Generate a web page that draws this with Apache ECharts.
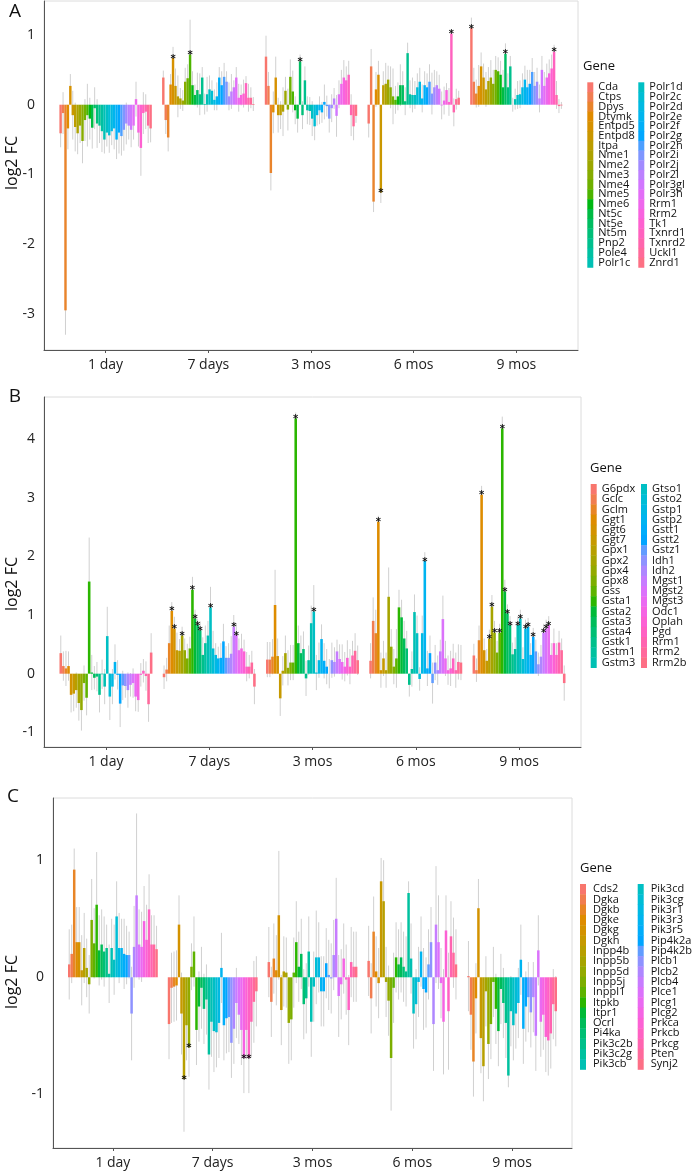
<!DOCTYPE html>
<html><head><meta charset="utf-8">
<script src="https://cdn.jsdelivr.net/npm/echarts@6/dist/echarts.min.js"></script>
<style>html,body{margin:0;padding:0;background:#fff}#c{width:692px;height:1174px}</style>
</head><body><div id="c"></div>
<script>
// ---------- DATA ----------
const timeLabels = ['1 day', '7 days', '3 mos', '6 mos', '9 mos'];
const yTicksA = [-3, -2, -1, 0, 1];
const yTicksB = [-1, 0, 1, 2, 3, 4];
const yTicksC = [-1, 0, 1];

const genesA = ['Cda','Ctps','Dpys','Dtymk','Entpd5','Entpd8','Itpa','Nme1','Nme2','Nme3','Nme4','Nme5','Nme6','Nt5c','Nt5e','Nt5m','Pnp2','Pole4','Polr1c',
  'Polr1d','Polr2c','Polr2d','Polr2e','Polr2f','Polr2g','Polr2h','Polr2i','Polr2j','Polr2l','Polr3gl','Polr3h','Rrm1','Rrm2','Tk1','Txnrd1','Txnrd2','Uckl1','Znrd1'];
const genesB = ['G6pdx','Gclc','Gclm','Ggt1','Ggt6','Ggt7','Gpx1','Gpx2','Gpx4','Gpx8','Gss','Gsta1','Gsta2','Gsta3','Gsta4','Gstk1','Gstm1','Gstm3',
  'Gtso1','Gsto2','Gstp1','Gstp2','Gstt1','Gstt2','Gstz1','Idh1','Idh2','Mgst1','Mgst2','Mgst3','Odc1','Oplah','Pgd','Rrm1','Rrm2','Rrm2b'];
const genesC = ['Cds2','Dgka','Dgkb','Dgke','Dgkg','Dgkh','Inpp4b','Inpp5b','Inpp5d','Inpp5j','Inppl1','Itpkb','Itpr1','Ocrl','Pi4ka','Pik3c2b','Pik3c2g','Pik3cb',
  'Pik3cd','Pik3cg','Pik3r1','Pik3r3','Pik3r5','Pip4k2a','Pip4k2b','Plcb1','Plcb2','Plcb4','Plce1','Plcg1','Plcg2','Prkca','Prkcb','Prkcg','Pten','Synj2'];

// log2 FC per timepoint (rows) per gene (columns)
const valuesA = [
  [-0.41,-0.12,-2.95,-0.34,0.27,-0.15,-0.32,-0.41,-0.3,-0.52,-0.22,-0.15,-0.2,-0.33,-0.05,-0.27,-0.3,-0.38,-0.5,-0.4,-0.44,-0.38,-0.34,-0.5,-0.4,-0.45,-0.36,-0.27,-0.3,-0.36,-0.3,0.08,-0.4,-0.62,-0.12,-0.1,-0.3,-0.34],
  [0.39,-0.22,-0.47,0.29,0.67,0.27,0.12,0.09,0.06,0.33,0.38,0.72,0.28,0.14,0.21,0.15,0.39,0.01,0.15,0.22,0.2,0.07,0.12,0.39,0.28,0.4,0.33,0.12,0.19,0.25,0.39,0.1,0.14,0.16,0.31,0.1,0.1,0.01],
  [0.69,0.27,-0.98,-0.11,0.39,-0.15,-0.15,-0.1,0.2,-0.07,0.4,0.19,-0.08,-0.2,0.62,-0.15,0.35,-0.08,-0.09,-0.2,-0.31,-0.15,-0.08,-0.11,0.04,-0.02,-0.2,-0.05,0.09,-0.16,0.15,0.3,0.39,0.35,0.43,-0.15,-0.31,-0.16],
  [-0.27,0.55,-1.39,0.22,0.43,-1.26,0.28,0.3,0.36,0.25,0.12,0.07,0.12,0.28,0.28,0.05,0.74,0.15,0.14,0.14,0.25,0.33,0.09,0.28,0.25,0.33,0.16,0.25,0.28,0.23,-0.01,0.06,0.21,0.04,1.02,-0.11,0.08,0.1],
  [1.1,0.33,0.16,0.27,0.55,0.39,0.22,0.34,0.39,0.3,0.5,0.48,0.43,0.25,0.73,0.25,0.55,0.0,0.08,0.14,0.15,0.25,0.36,0.25,0.3,0.47,0.27,0.33,0.09,0.5,0.27,0.39,0.45,0.52,0.76,0.14,-0.02,-0.01]
];
const errorsA = [
  [0.2,0.3,0.35,0.3,0.17,0.35,0.35,0.3,0.25,0.32,0.3,0.45,0.3,0.3,0.3,0.35,0.25,0.3,0.2,0.2,0.25,0.2,0.3,0.28,0.3,0.28,0.3,0.3,0.2,0.25,0.2,0.25,0.2,0.4,0.3,0.25,0.25,0.2],
  [0.1,0.2,0.2,0.15,0.16,0.25,0.3,0.15,0.15,0.2,0.2,0.5,0.2,0.15,0.25,0.3,0.15,0.15,0.25,0.2,0.15,0.15,0.2,0.15,0.2,0.2,0.15,0.2,0.25,0.1,0.15,0.2,0.15,0.2,0.1,0.2,0.15,0.1],
  [0.3,0.2,0.25,0.3,0.3,0.25,0.2,0.35,0.2,0.3,0.25,0.3,0.2,0.2,0.1,0.2,0.2,0.2,0.2,0.25,0.2,0.15,0.2,0.15,0.25,0.15,0.2,0.2,0.15,0.3,0.2,0.2,0.25,0.2,0.2,0.3,0.2,0.1],
  [0.2,0.25,0.15,0.25,0.2,0.15,0.2,0.3,0.2,0.3,0.4,0.2,0.2,0.3,0.2,0.2,0.15,0.2,0.25,0.2,0.2,0.2,0.2,0.2,0.2,0.25,0.3,0.25,0.2,0.2,0.2,0.2,0.1,0.2,0.05,0.2,0.15,0.1],
  [0.15,0.2,0.2,0.3,0.2,0.2,0.25,0.2,0.25,0.2,0.2,0.2,0.2,0.25,0.15,0.2,0.15,0.1,0.15,0.2,0.2,0.2,0.2,0.25,0.2,0.2,0.2,0.2,0.2,0.2,0.2,0.2,0.2,0.2,0.1,0.2,0.1,0.05]
];
const starsA = [[], [4, 11], [14], [5, 34], [0, 14, 34]];

const valuesB = [
  [0.35,0.13,0.09,0.13,-0.36,-0.34,-0.28,-0.5,-0.62,-0.16,-0.41,1.57,0.02,-0.07,-0.05,-0.36,-0.01,-0.22,0.64,-0.39,-0.22,0.2,-0.02,-0.51,-0.2,-0.21,-0.28,-0.19,-0.16,-0.39,-0.45,-0.02,0.05,-0.04,-0.52,0.36],
  [-0.06,0.07,0.52,1.07,0.77,0.4,0.39,0.65,0.4,0.26,0.43,1.43,0.94,0.83,0.74,0.32,0.52,0.65,1.13,0.43,0.32,0.26,0.27,0.55,0.27,0.27,0.34,0.8,0.66,0.4,0.43,0.38,0.12,0.12,0.19,-0.22],
  [0.24,0.24,0.29,1.17,0.3,-0.42,0.05,0.35,0.1,0.19,0.19,4.35,0.52,0.35,0.42,-0.08,0.23,0.86,1.06,0.02,0.23,0.59,0.22,0.12,0.0,0.23,0.2,0.38,0.25,0.2,0.12,0.27,0.12,0.31,0.39,0.23],
  [0.22,0.9,0.69,2.59,0.06,0.26,0.06,1.31,0.46,0.12,0.26,1.13,0.96,0.6,0.43,-0.19,0.08,1.05,0.69,-0.09,0.69,1.92,0.09,0.35,-0.16,0.19,0.06,0.38,0.93,0.26,0.06,0.09,0.26,0.06,0.2,0.19],
  [0.31,0.06,0.57,3.05,0.4,0.22,0.6,1.14,0.7,0.36,0.7,4.18,1.4,1.03,0.83,0.33,0.42,0.83,0.94,0.25,0.77,0.8,0.32,0.63,0.38,0.16,0.29,0.7,0.77,0.83,0.32,0.52,0.32,0.53,0.4,-0.16]
];
const errorsB = [
  [0.3,0.25,0.3,0.25,0.3,0.3,0.3,0.3,0.35,0.3,0.3,0.75,0.3,0.2,0.25,0.3,0.25,0.3,0.5,0.4,0.3,0.3,0.25,0.4,0.25,0.2,0.3,0.2,0.25,0.25,0.2,0.2,0.2,0.25,0.3,0.33],
  [0.2,0.2,0.3,0.15,0.2,0.3,0.2,0.15,0.2,0.25,0.2,0.22,0.15,0.1,0.15,0.3,0.3,0.25,0.35,0.3,0.2,0.2,0.25,0.3,0.2,0.25,0.3,0.2,0.2,0.2,0.25,0.2,0.25,0.2,0.2,0.3],
  [0.3,0.3,0.3,0.6,0.3,0.3,0.25,0.3,0.3,0.3,0.3,0.1,0.3,0.3,0.3,0.3,0.25,0.3,0.45,0.3,0.3,0.25,0.3,0.3,0.25,0.3,0.25,0.2,0.25,0.3,0.25,0.3,0.3,0.25,0.3,0.25],
  [0.3,0.4,0.4,0.1,0.3,0.3,0.3,0.5,0.3,0.3,0.5,0.3,0.3,0.3,0.3,0.2,0.3,0.3,0.3,0.2,0.3,0.15,0.3,0.3,0.35,0.3,0.25,0.2,0.4,0.3,0.25,0.3,0.25,0.3,0.3,0.3],
  [0.2,0.2,0.25,0.15,0.2,0.2,0.15,0.2,0.2,0.2,0.15,0.2,0.2,0.15,0.15,0.2,0.2,0.15,0.15,0.2,0.15,0.15,0.2,0.15,0.2,0.2,0.2,0.15,0.15,0.15,0.2,0.25,0.2,0.2,0.2,0.3]
];
const starsB = [[], [3, 4, 7, 11, 12, 13, 14, 18, 27, 28], [11, 18], [3, 21],
  [3, 6, 7, 8, 10, 11, 12, 13, 14, 17, 18, 20, 21, 23, 27, 28, 29]];

const valuesC = [
  [0.11,0.2,0.92,0.3,0.3,0.06,0.25,0.08,-0.06,0.49,0.29,0.62,0.23,0.28,0.22,0.25,0.03,0.25,0.15,0.52,0.25,0.25,0.2,0.19,0.19,-0.31,0.26,0.7,0.28,0.26,0.48,0.32,0.58,0.28,0.28,0.24],
  [-0.4,-0.09,-0.08,-0.07,0.45,-0.31,-0.87,-0.41,-0.6,0.09,0.22,-0.45,-0.25,-0.09,-0.27,-0.19,-0.66,-0.38,-0.46,-0.47,-0.39,0.08,-0.41,-0.35,-0.34,-0.56,-0.44,-0.22,-0.32,-0.45,-0.69,-0.45,-0.69,-0.38,-0.21,-0.12],
  [0.13,-0.21,0.16,0.06,0.53,-0.28,0.05,0.04,-0.39,-0.36,0.04,0.3,0.09,0.2,-0.23,-0.18,0.22,-0.38,-0.08,0.17,0.17,-0.12,-0.12,0.12,0.02,-0.01,0.19,0.5,-0.16,-0.06,0.16,-0.02,-0.28,0.13,0.09,0.09],
  [0.14,-0.18,0.39,0.05,-0.05,0.82,0.65,-0.04,-0.2,-0.69,-0.09,0.17,0.11,0.17,0.09,0.05,0.72,0.16,-0.31,-0.23,-0.04,0.22,-0.1,-0.13,0.11,0.3,-0.4,0.45,0.3,-0.05,-0.38,0.4,-0.29,0.35,0.21,0.11],
  [0.01,-0.32,-0.72,-0.18,0.59,-0.52,-0.76,-0.12,-0.57,-0.4,-0.04,-0.27,-0.46,-0.1,-0.22,-0.39,-0.84,-0.29,-0.41,-0.31,-0.22,0.15,-0.44,-0.25,-0.17,-0.3,-0.17,-0.5,0.23,-0.38,-0.32,-0.51,-0.54,-0.48,-0.23,-0.29]
];
const errorsC = [
  [0.3,0.25,0.18,0.3,0.3,0.3,0.3,0.25,0.25,0.35,0.3,0.45,0.3,0.3,0.3,0.2,0.25,0.25,0.3,0.3,0.3,0.25,0.3,0.25,0.2,0.4,0.35,0.7,0.3,0.3,0.3,0.3,0.3,0.25,0.25,0.2],
  [0.3,0.3,0.3,0.3,0.25,0.35,0.45,0.3,0.25,0.2,0.3,0.3,0.3,0.35,0.3,0.3,0.3,0.3,0.35,0.3,0.3,0.3,0.3,0.3,0.3,0.3,0.3,0.3,0.25,0.3,0.3,0.25,0.3,0.3,0.35,0.3],
  [0.3,0.3,0.3,0.3,0.55,0.3,0.3,0.3,0.35,0.35,0.3,0.35,0.3,0.3,0.3,0.3,0.3,0.3,0.3,0.4,0.3,0.3,0.3,0.3,0.3,0.3,0.3,0.35,0.35,0.3,0.3,0.3,0.3,0.3,0.3,0.3],
  [0.3,0.3,0.3,0.3,0.3,0.2,0.35,0.3,0.3,0.45,0.3,0.3,0.3,0.3,0.3,0.3,0.1,0.3,0.3,0.3,0.3,0.3,0.35,0.3,0.3,0.3,0.4,0.5,0.4,0.3,0.45,0.3,0.5,0.3,0.3,0.3],
  [0.3,0.3,0.3,0.3,0.25,0.3,0.3,0.3,0.3,0.3,0.3,0.3,0.3,0.3,0.3,0.3,0.1,0.3,0.3,0.3,0.3,0.3,0.3,0.3,0.3,0.3,0.3,0.3,0.3,0.3,0.3,0.3,0.3,0.3,0.3,0.3]
];
const starsC = [[], [6, 8, 30, 32], [], [], []];

// ---------- STYLE / LAYOUT ----------
const FONT = 'Open Sans';
function hcl2hex(h, c, l) {
  const hr = h * Math.PI / 180;
  const U = c * Math.cos(hr), V = c * Math.sin(hr);
  const Xn = 95.047, Yn = 100, Zn = 108.883;
  const den = Xn + 15 * Yn + 3 * Zn;
  const un = 4 * Xn / den, vn = 9 * Yn / den;
  const Y = Yn * (l > 8 ? Math.pow((l + 16) / 116, 3) : l / 903.3);
  const u = U / (13 * l) + un, v = V / (13 * l) + vn;
  const X = Y * 9 * u / (4 * v);
  const Z = Y * (12 - 3 * u - 20 * v) / (4 * v);
  const x = X / 100, y = Y / 100, z = Z / 100;
  let r = 3.240479 * x - 1.537150 * y - 0.498535 * z;
  let g = -0.969256 * x + 1.875992 * y + 0.041556 * z;
  let b = 0.055648 * x - 0.204043 * y + 1.057311 * z;
  const gam = t => { t = t <= 0.0031308 ? 12.92 * t : 1.055 * Math.pow(t, 1 / 2.4) - 0.055; return Math.max(0, Math.min(1, t)); };
  const hx = t => Math.round(gam(t) * 255).toString(16).padStart(2, '0');
  return '#' + hx(r) + hx(g) + hx(b);
}
function huePal(n) {
  const out = [];
  for (let i = 0; i < n; i++) out.push(hcl2hex(15 + i * 360 / n, 100, 65));
  return out;
}

const panels = [
  { key: 'A', genes: genesA, vals: valuesA, errs: errorsA, stars: starsA, yTicks: yTicksA,
    grid: { left: 44, top: 1, width: 534, height: 349 }, ymin: -3.519, ymax: 1.488,
    leg: { x1: 587.3, x2: 638.3, top: 82.3, pitch: 9.74, tx: 11 }, title: { x: 583, y: 66 },
    letter: { x: 15, y: 12 }, ylab: { x: 12, y: 163 } },
  { key: 'B', genes: genesB, vals: valuesB, errs: errorsB, stars: starsB, yTicks: yTicksB,
    grid: { left: 44, top: 397, width: 537, height: 350 }, ymin: -1.249, ymax: 4.714,
    leg: { x1: 590.7, x2: 641, top: 484, pitch: 10.2, tx: 11 }, title: { x: 590, y: 468 },
    letter: { x: 15, y: 397 }, ylab: { x: 12, y: 584 } },
  { key: 'C', genes: genesC, vals: valuesC, errs: errorsC, stars: starsC, yTicks: yTicksC,
    grid: { left: 53, top: 798, width: 519, height: 350 }, ymin: -1.459, ymax: 1.532,
    leg: { x1: 580, x2: 637.7, top: 884, pitch: 10.3, tx: 13 }, title: { x: 580, y: 868 },
    letter: { x: 13, y: 797 }, ylab: { x: 12, y: 982 } }
];

const grids = [], xAxes = [], yAxes = [], series = [], graphics = [];

panels.forEach((p, pi) => {
  const n = p.genes.length;
  const cols = huePal(n);
  grids.push(Object.assign({ show: true, borderColor: '#dcdcdc', borderWidth: 1, backgroundColor: '#fff' }, p.grid));
  xAxes.push({
    type: 'value', gridIndex: pi, min: -0.6, max: 4.6,
    splitLine: { show: false },
    axisLine: { show: true, onZero: false, lineStyle: { color: '#555', width: 1 } },
    axisTick: { show: true, length: 3, customValues: [0, 1, 2, 3, 4], lineStyle: { color: '#555' } },
    axisLabel: { customValues: [0, 1, 2, 3, 4], formatter: v => timeLabels[Math.round(v)], fontSize: 14, color: '#222', margin: 8, fontFamily: FONT }
  });
  yAxes.push({
    type: 'value', gridIndex: pi, min: p.ymin, max: p.ymax,
    splitLine: { show: false },
    axisLine: { show: true, onZero: false, lineStyle: { color: '#555', width: 1 } },
    axisTick: { show: false },
    axisLabel: { customValues: p.yTicks, fontSize: 14, color: '#222', margin: 9, fontFamily: FONT }
  });
  const w = 0.9 / n;
  const starData = [];
  p.genes.forEach((g, gi) => {
    const color = cols[gi];
    const data = p.vals.map((row, ti) => {
      const x = ti - 0.45 + (gi + 0.5) * w;
      if (p.stars[ti].indexOf(gi) >= 0) starData.push([x, row[gi]]);
      return [x, row[gi], p.errs[ti][gi]];
    });
    series.push({
      type: 'custom', name: g, xAxisIndex: pi, yAxisIndex: pi,
      itemStyle: { color }, silent: true, data,
      renderItem: (params, api) => {
        const x = api.value(0), v = api.value(1), e = api.value(2);
        const b0 = api.coord([x, 0]);
        const b1 = api.coord([x, v]);
        const bw = api.size([w, 0])[0];
        const hi = api.coord([x, v + e]), lo = api.coord([x, v - e]);
        return {
          type: 'group', children: [
            { type: 'line', shape: { x1: b0[0], y1: hi[1], x2: b0[0], y2: lo[1] }, style: { stroke: '#d0d0d0', lineWidth: 1 } },
            { type: 'rect', shape: { x: b0[0] - bw / 2, y: Math.min(b0[1], b1[1]), width: bw, height: Math.abs(b1[1] - b0[1]) }, style: { fill: color } }
          ]
        };
      }
    });
  });
  series.push({
    type: 'custom', xAxisIndex: pi, yAxisIndex: pi, z: 5, silent: true, data: starData,
    renderItem: (params, api) => {
      const pt = api.coord([api.value(0), api.value(1)]);
      return { type: 'text', x: pt[0], y: pt[1] + 1, style: { text: '*', fill: '#111', fontSize: 10, fontFamily: 'DejaVu Sans', fontWeight: 'bold', align: 'center', verticalAlign: 'middle' } };
    }
  });
  // colour key: two columns of contiguous swatches with gene names
  const half = Math.ceil(n / 2);
  p.genes.forEach((g, gi) => {
    const col = gi < half ? 0 : 1;
    const k = gi - col * half;
    const lx = col ? p.leg.x2 : p.leg.x1;
    const y = p.leg.top + k * p.leg.pitch;
    graphics.push(
      { type: 'rect', silent: true, shape: { x: lx, y: y, width: 6, height: p.leg.pitch + 0.4 }, style: { fill: cols[gi] } },
      { type: 'text', silent: true, x: lx + p.leg.tx, y: y + p.leg.pitch / 2, style: { text: g, fontSize: 11, fill: '#111', fontFamily: FONT, verticalAlign: 'middle' } }
    );
  });
  graphics.push(
    { type: 'text', x: p.letter.x, y: p.letter.y, style: { text: p.key, fontSize: 19, fill: '#111', fontFamily: FONT, align: 'center', verticalAlign: 'middle' } },
    { type: 'text', x: p.title.x, y: p.title.y, style: { text: 'Gene', fontSize: 13, fill: '#111', fontFamily: FONT, verticalAlign: 'middle' } },
    { type: 'text', x: p.ylab.x, y: p.ylab.y, rotation: Math.PI / 2, style: { text: 'log2 FC', fontSize: 16, fill: '#111', fontFamily: FONT, align: 'center', verticalAlign: 'middle' } }
  );
});

const chart = echarts.init(document.getElementById('c'), null, { renderer: 'canvas' });
chart.setOption({
  animation: false,
  backgroundColor: '#fff',
  grid: grids, xAxis: xAxes, yAxis: yAxes,
  series: series, graphic: graphics
});
</script>
</body></html>
